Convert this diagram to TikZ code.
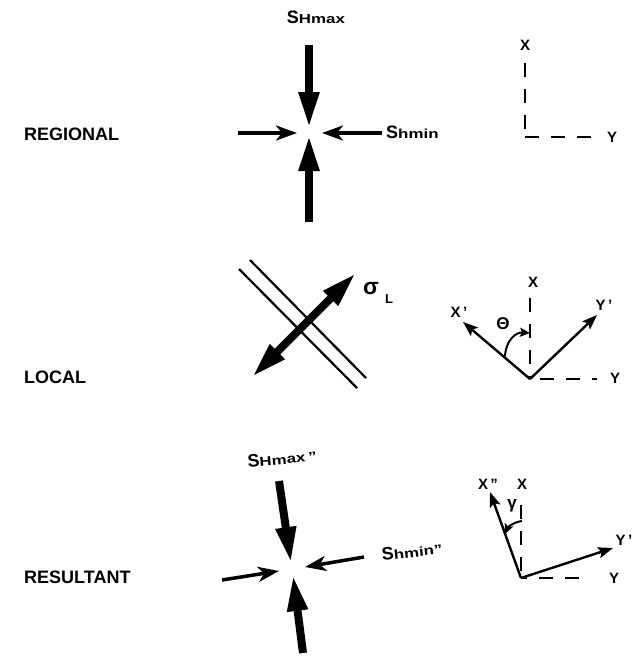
\documentclass[tikz,border=0pt]{standalone}
\usepackage{fontspec}
\setmainfont{Liberation Sans}
\usetikzlibrary{arrows.meta}
\begin{document}
\begin{tikzpicture}[x=1pt,y=-1pt,
  lbl/.style={font=\bfseries\fontsize{18}{20}\selectfont, anchor=west, inner sep=0pt},
  ax/.style={font=\bfseries\fontsize{15}{16}\selectfont, inner sep=0pt},
  slbl/.style={font=\bfseries\fontsize{18}{20}\selectfont, inner sep=0pt},
  dsh/.style={line width=2.2pt, dash pattern=on 14pt off 12pt},
  bigarr/.style={line width=8pt,-{Triangle[length=36pt,width=19pt]}},
  thinarr/.style={line width=3.5pt,-{Stealth[length=21pt,width=15pt,inset=6pt]}},
  axarr/.style={line width=2.4pt,-{Stealth[length=15pt,width=11pt,inset=3pt]}},
  anglearr/.style={line width=2pt,-{Stealth[length=10pt,width=9pt,inset=2pt]}},
  fault/.style={line width=2.2pt},
]
\useasboundingbox (0,0) rectangle (635,657);
\newcommand{\smallpart}[1]{\scalebox{1.3}[1]{\fontsize{13}{14}\selectfont #1}}

% ---------- section labels ----------
\node[lbl] (reg) at (24,134) {REGIONAL};
\node[lbl] (loc) at (24,377) {LOCAL};
\node[lbl] (res) at (24,577) {RESULTANT};

% ---------- REGIONAL ----------
\coordinate (r1a) at (309,45);  \coordinate (r1b) at (309,128);
\coordinate (r2a) at (309,222); \coordinate (r2b) at (309,135);
\coordinate (r3a) at (238,133); \coordinate (r3b) at (297,133);
\coordinate (r4a) at (382,133); \coordinate (r4b) at (322,133);
\draw[bigarr] (r1a) -- (r1b);
\draw[bigarr] (r2a) -- (r2b);
\draw[thinarr] (r3a) -- (r3b);
\draw[thinarr] (r4a) -- (r4b);
\node[slbl] (shmax) at (316,17) {S\smallpart{Hmax}};
\node[slbl, anchor=west] (shmin) at (386,132) {S\smallpart{hmin}};

\coordinate (ro) at (525,137);
\node[ax] (rx) at (525,45) {X};
\node[ax] (ry) at (612,137) {Y};
\coordinate (rxe) at (525,63);
\coordinate (rye) at (592,137);
\draw[dsh] (rxe) -- (ro);
\draw[dsh] (ro) -- (rye);

% ---------- LOCAL ----------
\coordinate (f1a) at (239,269); \coordinate (f1b) at (357,388);
\coordinate (f2a) at (250,260); \coordinate (f2b) at (366,378);
\draw[fault] (f1a) -- (f1b);
\draw[fault] (f2a) -- (f2b);
\coordinate (lm) at (304,325);
\coordinate (lt1) at (356,273);
\coordinate (lt2) at (252,377);
\draw[bigarr] (lm) -- (lt1);
\draw[bigarr] (lm) -- (lt2);
\node[font=\bfseries\fontsize{23}{24}\selectfont, inner sep=0pt] (sig) at (371,289) {σ};
\node[font=\bfseries\fontsize{13}{14}\selectfont, inner sep=0pt] (sigL) at (389,299) {L};

\coordinate (lo) at (530,379);
\node[ax] (lx) at (533,282) {X};
\node[ax] (ly) at (615,378) {Y};
\node[ax] (lxp) at (459,312) {X\,'};
\node[ax] (lyp) at (604,305) {Y\,'};
\coordinate (lxe) at (530,298);
\coordinate (lye) at (597,379);
\draw[dsh] (lxe) -- (lo);
\draw[dsh, dash phase=-10pt] (lo) -- (lye);
\coordinate (lxpt) at (463,322);
\coordinate (lypt) at (597,315);
\draw[axarr] (lo) -- (lxpt);
\draw[axarr] (lo) -- (lypt);
\node[font=\bfseries\fontsize{17}{18}\selectfont, inner sep=0pt] (theta) at (503,324) {Θ};
\coordinate (tha) at (505,356);
\coordinate (thb) at (530,333);
\draw[anglearr] (tha) .. controls (506,340) and (516,332) .. (thb);

% ---------- RESULTANT ----------
\coordinate (s1a) at (279,481); \coordinate (s1b) at (291,563);
\coordinate (s2a) at (303,653); \coordinate (s2b) at (293,575);
\coordinate (s3a) at (222,580); \coordinate (s3b) at (279,571);
\coordinate (s4a) at (364,557); \coordinate (s4b) at (305,567);
\draw[bigarr] (s1a) -- (s1b);
\draw[bigarr] (s2a) -- (s2b);
\draw[thinarr] (s3a) -- (s3b);
\draw[thinarr] (s4a) -- (s4b);
\node[slbl, rotate=5] (shmax2) at (282,458) {S\smallpart{Hmax\,"}};
\node[slbl, rotate=6] (shmin2) at (412,551) {S\smallpart{hmin"}};

\coordinate (so) at (521,578);
\node[ax] (sx) at (522,484) {X};
\node[ax] (sy) at (614,578) {Y};
\node[ax] (sxp) at (488,484) {X\,"};
\node[ax] (syp) at (624,540) {Y\,'};
\coordinate (sxe) at (521,505);
\coordinate (sye) at (588,578);
\draw[dsh] (sxe) -- (so);
\draw[dsh, dash phase=-18pt] (so) -- (sye);
\coordinate (sxpt) at (490,492);
\coordinate (sypt) at (613,548);
\draw[axarr] (so) -- (sxpt);
\draw[axarr] (so) -- (sypt);
\node[font=\bfseries\fontsize{17}{18}\selectfont, inner sep=0pt] (gam) at (512,506) {γ};
\coordinate (ga) at (522,521);
\coordinate (gb) at (505,534);
\draw[anglearr] (ga) .. controls (514,522) and (508,527) .. (gb);
\end{tikzpicture}
\end{document}
